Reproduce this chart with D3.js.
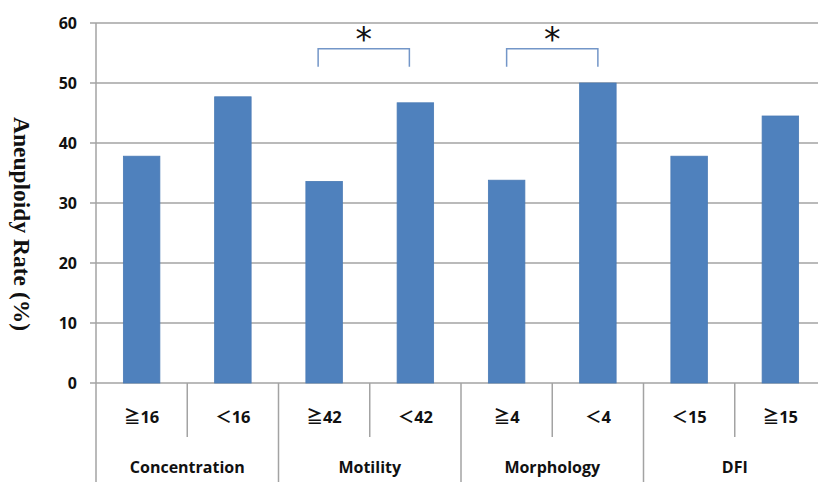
<!DOCTYPE html>
<html><head><meta charset="utf-8">
<script src="https://cdn.jsdelivr.net/npm/d3@7/dist/d3.min.js"></script>
<style>body{margin:0;background:#fff}svg{display:block}</style>
</head><body>
<svg id="c" width="818" height="482"></svg>
<script>
const subLabels = ["≧16","＜16","≧42","＜42","≧4","＜4","＜15","≧15"];
const groups = ["Concentration","Motility","Morphology","DFI"];
const rates = [37.8, 47.7, 33.6, 46.7, 33.8, 50.0, 37.8, 44.5];
const yTicks = [0,10,20,30,40,50,60];
const brackets = [[2,3],[4,5]];
const yTitle = "Aneuploidy Rate (%)";

const svg = d3.select("#c");
const plotL = 96, plotR = 826, plotT = 23, plotB = 383;
const x = d3.scaleBand().domain(d3.range(subLabels.length)).range([plotL, plotR]).paddingInner(0.6).paddingOuter(0.3);
const y = d3.scaleLinear().domain([0,60]).range([plotB, plotT]);
const step = x.step();
const font = "'Open Sans', 'Noto Sans CJK SC', sans-serif";

// gridlines
svg.append("g").selectAll("line").data(yTicks).join("line")
  .attr("x1", 90).attr("x2", 818)
  .attr("y1", d => y(d)).attr("y2", d => y(d))
  .attr("stroke", "#a3a3a3").attr("stroke-width", 1.5);

// y axis line extended down to bottom
svg.append("line").attr("x1", plotL).attr("x2", plotL).attr("y1", plotT).attr("y2", 482)
  .attr("stroke", "#a3a3a3").attr("stroke-width", 1.5);

// y tick labels
svg.append("g").selectAll("text").data(yTicks).join("text")
  .attr("x", 77).attr("y", d => y(d)).attr("dy", "0.36em")
  .attr("text-anchor", "end").attr("font-family", font).attr("font-weight", 700)
  .attr("font-size", 16).attr("fill", "#111").text(d => d);

// bars
svg.append("g").selectAll("rect").data(rates).join("rect")
  .attr("x", (d,i) => x(i)).attr("width", x.bandwidth())
  .attr("y", d => y(d)).attr("height", d => y(0) - y(d))
  .attr("fill", "#4f81bd").attr("stroke", "#4a7bb5").attr("stroke-width", 0.8);

// category separators
const sep = svg.append("g").attr("stroke", "#a3a3a3").attr("stroke-width", 1.5);
subLabels.forEach((s,i) => {
  const xe = plotL + (i+1) * step;
  const isGroup = (i % 2) === 1;
  sep.append("line").attr("x1", xe).attr("x2", xe).attr("y1", plotB).attr("y2", isGroup ? 482 : 437);
});

// sub labels
svg.append("g").selectAll("text").data(subLabels).join("text")
  .attr("x", (d,i) => x(i) + x.bandwidth()/2).attr("y", 423)
  .attr("text-anchor", "middle").attr("font-family", font).attr("font-weight", 700)
  .attr("font-size", 16.5).attr("fill", "#111").text(d => d);

// group labels
svg.append("g").selectAll("text").data(groups).join("text")
  .attr("x", (d,i) => plotL + (2*i+1) * step).attr("y", 472.5)
  .attr("text-anchor", "middle").attr("font-family", font).attr("font-weight", 700)
  .attr("font-size", 16).attr("fill", "#111").text(d => d);

// significance brackets
brackets.forEach(([a,b], k) => {
  const off = k === 0 ? -6 : 0;
  const xa = x(a) + x.bandwidth()/2 + off, xb = x(b) + x.bandwidth()/2 + off;
  svg.append("path")
    .attr("d", `M${xa},${y(52.7)}V${y(55.7)}H${xb}V${y(52.7)}`)
    .attr("fill", "none").attr("stroke", "#7396c8").attr("stroke-width", 1.5);
  svg.append("text").attr("x", (xa+xb)/2).attr("y", 51)
    .attr("text-anchor", "middle").attr("font-family", "'DejaVu Sans'")
    .attr("font-size", 33).attr("fill", "#111").text("*");
});

// y title
svg.append("text").attr("transform", "translate(22,224) rotate(90)")
  .attr("text-anchor", "middle").attr("dominant-baseline", "central")
  .attr("font-family", "'Liberation Serif', serif").attr("font-weight", 700)
  .attr("font-size", 23.5).attr("fill", "#111").text(yTitle);
</script>
</body></html>
